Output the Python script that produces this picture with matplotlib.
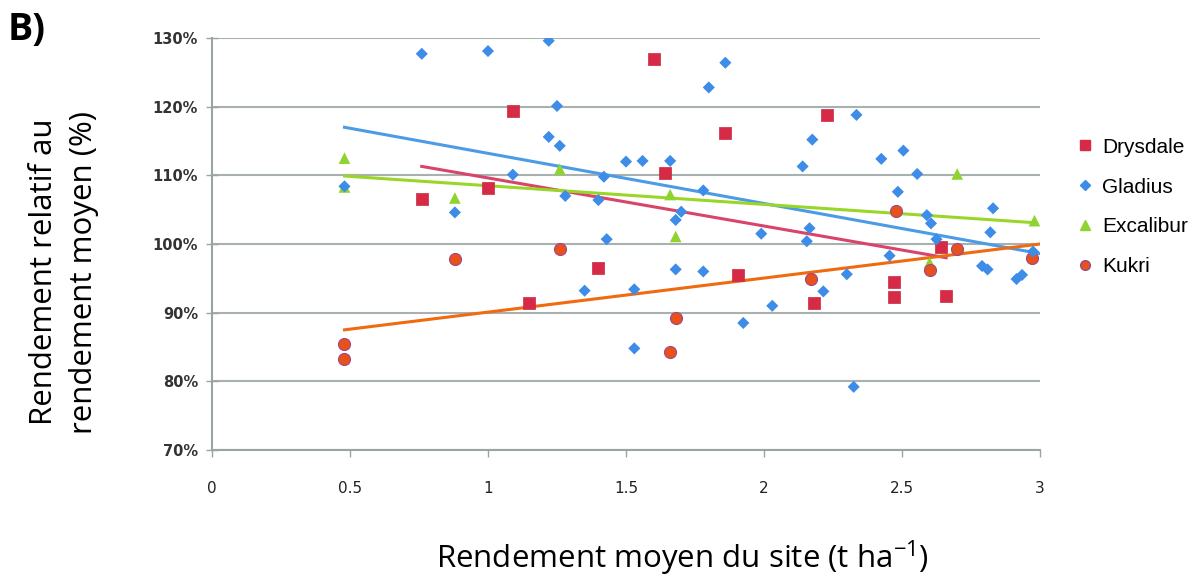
import matplotlib
matplotlib.use("Agg")
import matplotlib.pyplot as plt
from matplotlib.lines import Line2D
from matplotlib.ticker import FuncFormatter

# yield of each variety relative to site mean (%), against mean site yield (t/ha)
drysdale_x = [0.76, 1.00, 1.09, 1.15, 1.40, 1.60, 1.64, 1.86, 1.905, 2.18, 2.23, 2.47, 2.47, 2.64, 2.66]
drysdale_y = [106.6, 108.1, 119.4, 91.4, 96.5, 126.9, 110.4, 116.2, 95.5, 91.4, 118.8, 94.4, 92.3, 99.6, 92.4]

gladius_x = [0.48, 0.76, 0.88, 1.00, 1.09, 1.22, 1.22, 1.25, 1.26, 1.28, 1.35, 1.40, 1.42, 1.43,
             1.50, 1.53, 1.53, 1.56, 1.66, 1.68, 1.68, 1.70, 1.78, 1.78, 1.80, 1.86, 1.925, 1.99,
             2.03, 2.14, 2.155, 2.165, 2.175, 2.215, 2.30, 2.325, 2.335, 2.425, 2.455, 2.485,
             2.505, 2.555, 2.59, 2.605, 2.625, 2.79, 2.81, 2.82, 2.83, 2.915, 2.935, 2.975]
gladius_y = [108.4, 127.7, 104.6, 128.1, 110.1, 129.6, 115.6, 120.1, 114.3, 107.0, 93.2, 106.4, 109.8, 100.7,
             112.0, 93.4, 84.8, 112.1, 112.1, 96.3, 103.5, 104.7, 107.8, 96.0, 122.8, 126.4, 88.5, 101.5,
             91.0, 111.3, 100.4, 102.3, 115.2, 93.1, 95.6, 79.2, 118.8, 112.4, 98.3, 107.6,
             113.6, 110.2, 104.2, 103.0, 100.7, 96.8, 96.3, 101.7, 105.2, 94.9, 95.5, 98.9]

excalibur_x = [0.48, 0.48, 0.88, 1.26, 1.66, 1.68, 2.60, 2.70, 2.98]
excalibur_y = [112.5, 108.3, 106.7, 110.9, 107.2, 101.1, 97.3, 110.2, 103.4]

kukri_x = [0.48, 0.48, 0.88, 1.26, 1.66, 1.68, 2.17, 2.48, 2.60, 2.70, 2.97]
kukri_y = [85.4, 83.3, 97.8, 99.3, 84.2, 89.2, 94.9, 104.8, 96.2, 99.3, 97.9]

# linear trend lines: (x start, y start, x end, y end)
trend_drysdale = [0.76, 111.3, 2.66, 98.0]
trend_gladius = [0.48, 117.0, 3.0, 98.6]
trend_excalibur = [0.48, 109.9, 2.98, 103.1]
trend_kukri = [0.48, 87.5, 3.0, 100.0]

fig = plt.figure(figsize=(12.01, 5.81), dpi=100)
ax = fig.add_axes([212 / 1201, 1 - 450 / 581, 828 / 1201, 412 / 581])

label_font = "Open Sans"

ax.plot(trend_gladius[0::2], trend_gladius[1::2], color="#4b9be6", lw=2.2, zorder=2)
ax.plot(trend_drysdale[0::2], trend_drysdale[1::2], color="#d8446a", lw=2.2, zorder=2)
ax.plot(trend_excalibur[0::2], trend_excalibur[1::2], color="#9ad629", lw=2.2, zorder=2)
ax.plot(trend_kukri[0::2], trend_kukri[1::2], color="#f06a10", lw=2.2, zorder=2)

ax.scatter(drysdale_x, drysdale_y, marker="s", s=75, color="#d62a46", edgecolors="#c8283f",
           linewidths=0.5, zorder=3)
ax.scatter(gladius_x, gladius_y, marker="D", s=38, color="#3c8ce8", edgecolors="none", zorder=4)
ax.scatter(excalibur_x, excalibur_y, marker="^", s=70, color="#8fd32f", edgecolors="none", zorder=3)
ax.scatter(kukri_x, kukri_y, marker="o", s=75, color="#e8501c", edgecolors="#9a4a8a",
           linewidths=0.8, zorder=3)

ax.set_xlim(0, 3)
ax.set_ylim(70, 130)
ax.set_xticks([0, 0.5, 1, 1.5, 2, 2.5, 3])
ax.set_xticklabels(["0", "0.5", "1", "1.5", "2", "2.5", "3"])
ax.set_yticks([70, 80, 90, 100, 110, 120, 130])
ax.yaxis.set_major_formatter(FuncFormatter(lambda v, p: f"{v:.0f}%"))
ax.tick_params(axis="y", length=8, width=1, color="#9aa4a4", labelsize=10.5, labelcolor="#333333",
               direction="inout", pad=6)
ax.tick_params(axis="x", length=5, width=1, color="#9aa4a4", labelsize=11, labelcolor="#222222",
               direction="out", pad=17)
for lab in ax.get_yticklabels():
    lab.set_fontweight("bold")

ax.grid(axis="y", color="#a9b0b0", lw=1.5)
ax.set_axisbelow(True)
for side in ["top", "right"]:
    ax.spines[side].set_visible(False)
ax.spines["left"].set_color("#9aa4a4")
ax.spines["bottom"].set_color("#9aa4a4")
ax.spines["left"].set_linewidth(1.5)
ax.spines["bottom"].set_linewidth(1.5)

fig.text(682 / 1201, 1 - 558 / 581, "Rendement moyen du site (t ha$\\mathregular{^{-1}}$)",
         ha="center", va="center", fontsize=22.5, family=label_font)
fig.text(64 / 1201, 1 - 272 / 581, "Rendement relatif au\nrendement moyen (%)",
         ha="center", va="center", rotation=90, fontsize=22.5, family=label_font, linespacing=1.4)
fig.text(8 / 1201, 1 - 30 / 581, "B)", ha="left", va="center", fontsize=27, fontweight="bold",
         family=label_font)

handles = [
    Line2D([], [], ls="none", marker="s", ms=7, color="#d62a46", label="Drysdale"),
    Line2D([], [], ls="none", marker="D", ms=5, color="#3c8ce8", label="Gladius"),
    Line2D([], [], ls="none", marker="^", ms=7, color="#8fd32f", label="Excalibur"),
    Line2D([], [], ls="none", marker="o", ms=7, color="#e8501c", markeredgecolor="#9a4a8a",
           label="Kukri"),
]
fig.legend(handles=handles, loc="center left", bbox_to_anchor=(1054 / 1201, 1 - 207 / 581),
           frameon=False, labelspacing=1.0, handletextpad=0.2, handlelength=1.2,
           prop={"family": "Liberation Sans", "size": 15})

fig.savefig("out.png", dpi=100)
